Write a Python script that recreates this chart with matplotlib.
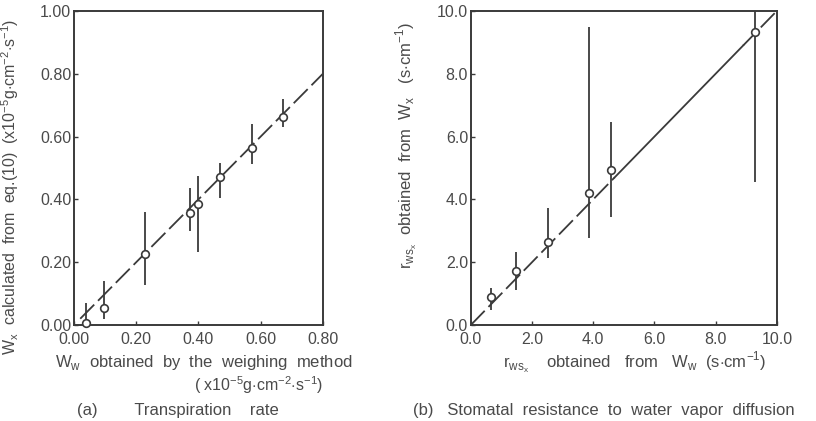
import matplotlib
matplotlib.use("Agg")
import matplotlib.pyplot as plt

# (a) transpiration rate, x1e-5 g cm-2 s-1
ww = [0.04, 0.095, 0.228, 0.373, 0.40, 0.469, 0.572, 0.671]
wx = [0.005, 0.054, 0.226, 0.357, 0.385, 0.472, 0.563, 0.663]
wx_lo = [0.0, 0.02, 0.127, 0.30, 0.232, 0.404, 0.513, 0.63]
wx_hi = [0.07, 0.14, 0.36, 0.436, 0.475, 0.515, 0.64, 0.72]

# (b) stomatal resistance, s cm-1
rw = [0.65, 1.47, 2.52, 3.86, 4.58, 9.28]
rx = [0.89, 1.72, 2.64, 4.20, 4.94, 9.33]
rx_lo = [0.48, 1.11, 2.13, 2.77, 3.44, 4.55]
rx_hi = [1.18, 2.32, 3.72, 9.49, 6.47, 10.0]

ticks_a = [0.0, 0.2, 0.4, 0.6, 0.8]
ticks_a_y = [0.0, 0.2, 0.4, 0.6, 0.8, 1.0]
ticks_b = [0, 2, 4, 6, 8, 10]

ink = "#3a3a3a"
txt = "#4a4a4a"
plt.rcParams['font.family'] = ['Liberation Sans', 'DejaVu Sans']
plt.rcParams['mathtext.fontset'] = 'custom'
plt.rcParams['mathtext.rm'] = 'Liberation Sans'

fig = plt.figure(figsize=(8.16, 4.21), dpi=100)
ax1 = fig.add_axes([0.0907, 0.228, 0.305, 0.746])
ax2 = fig.add_axes([0.577, 0.228, 0.375, 0.746])


def style(ax):
    for s in ax.spines.values():
        s.set_color(ink)
        s.set_linewidth(1.4)
    ax.tick_params(direction="in", length=3, width=1, color=ink,
                   labelsize=11.5, labelcolor=txt)
    ax.tick_params(axis="x", pad=5)
    ax.tick_params(axis="y", pad=2)


def draw(ax, x, y, lo, hi):
    err = [[b - a for a, b in zip(lo, y)], [b - a for a, b in zip(y, hi)]]
    ax.errorbar(x, y, yerr=err, fmt="none", ecolor=ink, elinewidth=1.3,
                capsize=0, clip_on=False, zorder=3)
    ax.plot(x, y, "o", ms=5.5, mfc="white", mec=ink, mew=1.2,
            clip_on=False, zorder=4)


# panel (a)
style(ax1)
ax1.plot([0.02, 0.8], [0.02, 0.8], color=ink, lw=1.3, dashes=(11, 3), zorder=2)
draw(ax1, ww, wx, wx_lo, wx_hi)
ax1.set_xlim(0, 0.8)
ax1.set_ylim(0, 1.0)
ax1.set_xticks(ticks_a)
ax1.set_yticks(ticks_a_y)
ax1.set_xticklabels(["%.2f" % t for t in ticks_a])
ax1.set_yticklabels(["%.2f" % t for t in ticks_a_y])
ax1.set_ylabel(r"W$_\mathrm{x}$  calculated  from  eq.(10)  (x10$^{-5}$g$\cdot$cm$^{-2}$$\cdot$s$^{-1}$)",
               fontsize=11.5, color=txt)
ax1.yaxis.set_label_coords(-0.215, 0.44)
fig.text(0.25, 0.128, r"W$_\mathrm{w}$  obtained  by  the  weighing  method",
         ha="center", fontsize=12, color=txt)
fig.text(0.317, 0.072, r"( x10$^{-5}$g$\cdot$cm$^{-2}$$\cdot$s$^{-1}$)",
         ha="center", fontsize=11.5, color=txt)
fig.text(0.094, 0.014, "(a)        Transpiration    rate", ha="left",
         fontsize=12, color=txt)

# panel (b)
style(ax2)
ax2.plot([0, 4.7], [0, 4.7], color=ink, lw=1.3, dashes=(11, 3), zorder=2)
ax2.plot([4.7, 8.9], [4.7, 8.9], color=ink, lw=1.3, zorder=2)
ax2.plot([8.9, 10], [8.9, 10], color=ink, lw=1.3, dashes=(11, 3), zorder=2)
draw(ax2, rw, rx, rx_lo, rx_hi)
ax2.set_xlim(0, 10)
ax2.set_ylim(0, 10)
ax2.set_xticks(ticks_b)
ax2.set_yticks(ticks_b)
ax2.set_xticklabels(["%.1f" % t for t in ticks_b])
ax2.set_yticklabels(["%.1f" % t for t in ticks_b])
ax2.set_ylabel(r"r$_{\mathrm{ws}_\mathrm{x}}$  obtained  from  W$_\mathrm{x}$   (s$\cdot$cm$^{-1}$)",
               fontsize=12, color=txt)
ax2.yaxis.set_label_coords(-0.17, 0.57)
fig.text(0.617, 0.128, r"r$_{\mathrm{ws}_\mathrm{x}}$    obtained   from   W$_\mathrm{w}$  (s$\cdot$cm$^{-1}$)",
         ha="left", fontsize=12, color=txt)
fig.text(0.506, 0.014, "(b)   Stomatal  resistance  to  water  vapor  diffusion",
         ha="left", fontsize=12, color=txt)

fig.savefig("out.png", dpi=100, facecolor="white")
